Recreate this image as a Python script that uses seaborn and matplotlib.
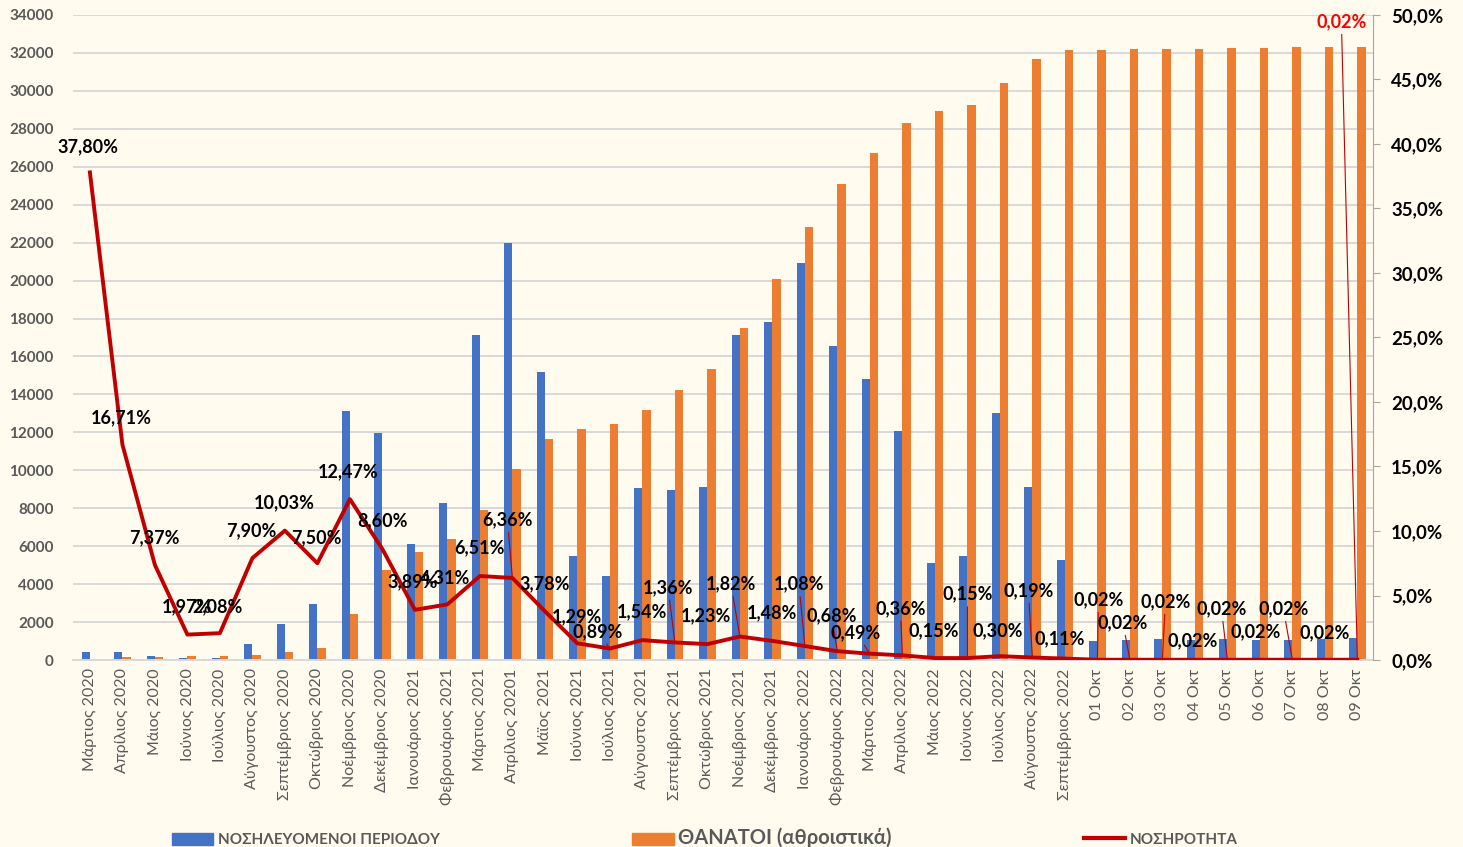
import numpy as np
import pandas as pd
import seaborn as sns
import matplotlib.pyplot as plt
from matplotlib.ticker import FuncFormatter, MultipleLocator
from matplotlib.patches import Patch
from matplotlib.lines import Line2D

periods = ["Μάρτιος 2020", "Απρίλιος 2020", "Μάιος 2020", "Ιούνιος 2020", "Ιούλιος 2020",
           "Αύγουστος 2020", "Σεπτέμβριος 2020", "Οκτώβριος 2020", "Νοέμβριος 2020",
           "Δεκέμβριος 2020", "Ιανουάριος 2021", "Φεβρουάριος 2021", "Μάρτιος 2021",
           "Απρίλιος 20201", "Μάϊος 2021", "Ιούνιος 2021", "Ιούλιος 2021", "Αύγουστος 2021",
           "Σεπτέμβριος 2021", "Οκτώβριος 2021", "Νοέμβριος 2021", "Δεκέμβριος 2021",
           "Ιανουάριος 2022", "Φεβρουάριος 2022", "Μάρτιος 2022", "Απρίλιος 2022",
           "Μάιος 2022", "Ιούνιος 2022", "Ιούλιος 2022", "Αύγουστος 2022", "Σεπτέμβριος 2022",
           "01 Οκτ", "02 Οκτ", "03 Οκτ", "04 Οκτ", "05 Οκτ", "06 Οκτ", "07 Οκτ", "08 Οκτ", "09 Οκτ"]

hospitalized = [420, 440, 230, 80, 80, 840, 1890, 2950, 13130, 11960,
                6110, 8270, 17130, 21980, 15180, 5480, 4430, 9070, 8960, 9120,
                17130, 17820, 20930, 16550, 14810, 12070, 5110, 5480, 13020, 9120,
                5270, 1000, 1050, 1100, 1050, 1100, 1050, 1050, 1120, 1160]

deaths = [50, 140, 170, 190, 200, 260, 420, 630, 2420, 4740,
          5690, 6370, 7910, 10080, 11650, 12180, 12440, 13180, 14230, 15340,
          17500, 20080, 22820, 25090, 26720, 28310, 28940, 29250, 30410, 31680,
          32150, 32170, 32190, 32230, 32230, 32260, 32270, 32290, 32290, 32320]

morbidity = [37.80, 16.71, 7.37, 1.97, 2.08, 7.90, 10.03, 7.50, 12.47, 8.60,
             3.89, 4.31, 6.51, 6.36, 3.78, 1.29, 0.89, 1.54, 1.36, 1.23,
             1.82, 1.48, 1.08, 0.68, 0.49, 0.36, 0.15, 0.15, 0.30, 0.19,
             0.11, 0.02, 0.02, 0.02, 0.02, 0.02, 0.02, 0.02, 0.02, 0.02]

# label offsets in pixels (dx, dy) from each line point
label_offsets = [(-2, 26), (-1, 27), (-1, 27), (0, 28), (-2, 26), (-1, 27), (-1, 28), (-1, 26),
                 (-2, 27), (0, 28), (-2, 28), (-2, 27), (0, 28), (-5, 58), (0, 27), (0, 27),
                 (-12, 17), (0, 28), (-7, 55), (-1, 28), (-9, 53), (0, 28), (-6, 62), (-6, 35),
                 (-14, 21), (-2, 47), (-1, 27), (0, 64), (-2, 25), (-4, 67), (-5, 20), (1, 60),
                 (-7, 37), (3, 58), (-2, 19), (-6, 51), (-4, 28), (-9, 51), (0, 27), (-16, 638)]

blue = "#4472C4"
orange = "#ED7D31"
red = "#C00000"
bg = "#FFFBEF"

plt.rcParams["font.family"] = ["Lato", "DejaVu Sans"]

df = pd.DataFrame({
    "period": periods * 2,
    "series": ["ΝΟΣΗΛΕΥΟΜΕΝΟΙ ΠΕΡΙΟΔΟΥ"] * len(periods) + ["ΘΑΝΑΤΟΙ (αθροιστικά)"] * len(periods),
    "value": hospitalized + deaths,
})

fig = plt.figure(figsize=(14.63, 8.47), dpi=100, facecolor=bg)
ax = fig.add_axes([73 / 1463, 1 - 660 / 847, 1300 / 1463, 645 / 847])
ax.set_facecolor(bg)

sns.barplot(data=df, x="period", y="value", hue="series", order=periods,
            palette=[blue, orange], width=0.5, saturation=1, legend=False, ax=ax)

ax.set_xlim(-0.52, 39.48)
ax.set_ylim(0, 34000)
ax.yaxis.set_major_locator(MultipleLocator(2000))
ax.grid(axis="y", color="#D9D9D9", lw=1.4)
ax.set_axisbelow(True)
ax.set_xlabel("")
ax.set_ylabel("")
for s in ["top", "left", "right"]:
    ax.spines[s].set_visible(False)
ax.spines["bottom"].set_color("#D9D9D9")
ax.spines["bottom"].set_linewidth(1.4)
ax.tick_params(axis="y", length=0, labelsize=11, labelcolor="#595959", pad=14)
ax.tick_params(axis="x", length=0, labelsize=11.5, labelcolor="#595959", pad=6)
plt.setp(ax.get_xticklabels(), rotation=90)
for t in ax.get_yticklabels():
    t.set_fontweight("bold")

ax2 = ax.twinx()
x = np.arange(len(periods))
rate = np.array(morbidity) / 100
sns.lineplot(x=x, y=rate, color=red, lw=2.8, ax=ax2)
ax2.set_ylim(0, 0.5)
ax2.yaxis.set_major_locator(MultipleLocator(0.05))
ax2.yaxis.set_major_formatter(FuncFormatter(lambda v, p: f"{v * 100:.1f}%".replace(".", ",")))
for s in ["top", "left", "bottom"]:
    ax2.spines[s].set_visible(False)
ax2.spines["right"].set_color("#A6A6A6")
ax2.tick_params(axis="y", colors="#A6A6A6", labelcolor="black", labelsize=13.5, length=5, pad=8)
for t in ax2.get_yticklabels():
    t.set_fontweight("bold")

for i, (v, (dx, dy)) in enumerate(zip(morbidity, label_offsets)):
    txt = f"{v:.2f}%".replace(".", ",")
    col = "#FF0000" if i == len(morbidity) - 1 else "black"
    leader = dy > 34 or abs(dx) > 8
    ax2.annotate(txt, (i, v / 100), xytext=(dx, dy), textcoords="offset pixels",
                 ha="center", va="center", fontsize=13, fontweight="bold", color=col,
                 arrowprops=dict(arrowstyle="-", color=red, lw=0.8, shrinkA=1, shrinkB=0) if leader else None)

handles = [Patch(color=blue), Patch(color=orange), Line2D([0], [0], color=red, lw=3)]
names = ["ΝΟΣΗΛΕΥΟΜΕΝΟΙ ΠΕΡΙΟΔΟΥ", "ΘΑΝΑΤΟΙ (αθροιστικά)", "ΝΟΣΗΡΟΤΗΤΑ"]
leg = fig.legend(handles, names, loc="center", bbox_to_anchor=(705 / 1463, 1 - 838 / 847), ncol=3,
                 frameon=False, fontsize=11, columnspacing=12.6, handlelength=2.7,
                 handleheight=0.9, handletextpad=0.3)
for t, fs in zip(leg.get_texts(), [11, 14.5, 11]):
    t.set_fontsize(fs)
    t.set_color("#595959")
    t.set_fontweight("bold")

fig.savefig("out.png", dpi=100, facecolor=bg)
